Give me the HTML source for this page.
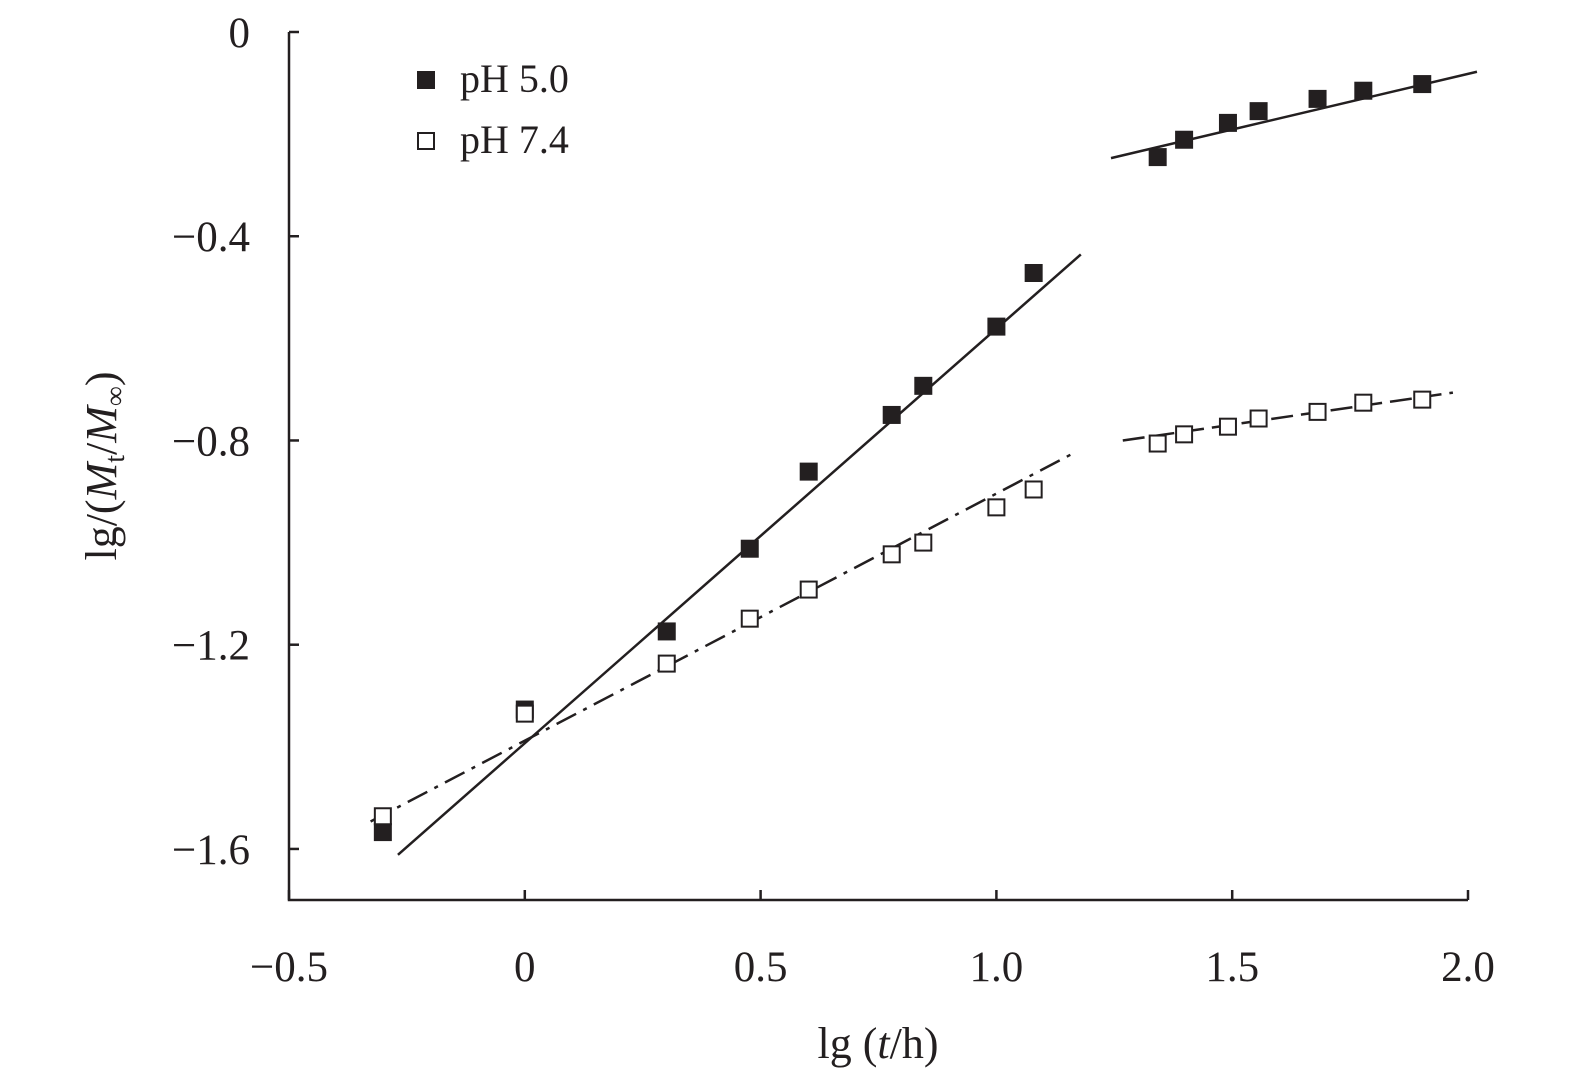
<!DOCTYPE html>
<html><head><meta charset="utf-8">
<style>
html,body{margin:0;padding:0;background:#fff;}
svg{display:block;font-family:"Liberation Serif",serif;}
</style></head>
<body>
<svg id="chart" width="1575" height="1083" viewBox="0 0 1575 1083" xmlns="http://www.w3.org/2000/svg">
</svg>
<script>
const xValues = [-0.301,0,0.301,0.477,0.602,0.778,0.845,1.0,1.079,1.342,1.398,1.491,1.556,1.681,1.778,1.903];
const ph50 = [-1.567,-1.327,-1.174,-1.012,-0.861,-0.750,-0.693,-0.577,-0.472,-0.245,-0.211,-0.178,-0.155,-0.131,-0.115,-0.102];
const ph74 = [-1.536,-1.335,-1.237,-1.149,-1.092,-1.023,-1.000,-0.931,-0.896,-0.806,-0.788,-0.773,-0.757,-0.744,-0.726,-0.720];
const xTicks = [-0.5,0,0.5,1.0,1.5,2.0];
const xTickLabels = ["\u22120.5","0","0.5","1.0","1.5","2.0"];
const yTicks = [0,-0.4,-0.8,-1.2,-1.6];
const yTickLabels = ["0","\u22120.4","\u22120.8","\u22121.2","\u22121.6"];
// fit segments: [x0, x1, slope, intercept]
const fit50a = [-0.269,1.179,0.812,-1.393];
const fit50b = [1.243,2.019,0.218,-0.518];
const fit74a = [-0.327,1.164,0.484,-1.388];
const fit74b = [1.268,1.968,0.134,-0.970];

const NS="http://www.w3.org/2000/svg";
const svg=document.getElementById('chart');
const X0=289,X1=1468,Y0=32,Y1=900;
const xMin=-0.5,xMax=2.0,yMin=-1.7,yMax=0;
function sx(v){return X0+(v-xMin)/(xMax-xMin)*(X1-X0);}
function sy(v){return Y0+(yMax-v)/(yMax-yMin)*(Y1-Y0);}
function mk(tag,attrs,parent){const e=document.createElementNS(NS,tag);for(const k in attrs)e.setAttribute(k,attrs[k]);(parent||svg).appendChild(e);return e;}

let ax=mk('path',{d:`M${X0},${Y0} V${Y1} H${X1}`,fill:'none',stroke:'#231f20','stroke-width':2.5});



xTicks.forEach((v,i)=>{
  const t=mk('line',{x1:sx(v),x2:sx(v),y1:Y1,y2:Y1-10,stroke:'#231f20','stroke-width':2.5});
  
  
  const l=mk('text',{x:sx(v),y:981,'text-anchor':'middle','font-size':43,fill:'#231f20'});
  l.textContent=xTickLabels[i];
  
  
});
yTicks.forEach((v,i)=>{
  const t=mk('line',{x1:X0,x2:X0+10,y1:sy(v),y2:sy(v),stroke:'#231f20','stroke-width':2.5});
  
  
  const l=mk('text',{x:250,y:sy(v)+15,'text-anchor':'end','font-size':43,fill:'#231f20'});
  l.textContent=yTickLabels[i];
  
  
});

function seg(f,dash,name){
  const l=mk('line',{x1:sx(f[0]),y1:sy(f[2]*f[0]+f[3]),x2:sx(f[1]),y2:sy(f[2]*f[1]+f[3]),stroke:'#231f20','stroke-width':2.5,'stroke-dasharray':dash});
  
  
}
seg(fit50a,'none','fit-line-ph50-early');
seg(fit50b,'none','fit-line-ph50-late');
seg(fit74a,'22 8 4 8','fit-line-ph74-early');
seg(fit74b,'22 8','fit-line-ph74-late');

const S=18;
xValues.forEach((x,i)=>{
  const a=mk('rect',{x:sx(x)-S/2,y:sy(ph50[i])-S/2,width:S,height:S,fill:'#231f20'});
  
  
});
xValues.forEach((x,i)=>{
  const b=mk('rect',{x:sx(x)-S/2+1,y:sy(ph74[i])-S/2+1,width:S-2,height:S-2,fill:'#fff',stroke:'#231f20','stroke-width':2});
  
  
});
</script>
<svg style="position:absolute;left:0;top:0" width="1575" height="1083">
  <g font-family="Liberation Serif, serif" fill="#231f20">
    <rect x="417" y="71" width="18" height="18" fill="#231f20"/>
    <text x="460" y="92" font-size="40">pH 5.0</text>
    <rect x="418" y="133" width="16" height="16" fill="#fff" stroke="#231f20" stroke-width="2"/>
    <text x="460" y="153" font-size="40">pH 7.4</text>
  </g>
  <text x="878" y="1058" text-anchor="middle" font-family="Liberation Serif, serif" font-size="44" fill="#231f20">lg (<tspan font-style="italic">t</tspan>/h)</text>
  <text transform="translate(116,466) rotate(-90)" text-anchor="middle" font-family="Liberation Serif, serif" font-size="44" fill="#231f20">lg/(<tspan font-style="italic">M</tspan><tspan font-size="28" dy="8">t</tspan><tspan dy="-8">/</tspan><tspan font-style="italic">M</tspan><tspan font-size="28" dy="8">∞</tspan><tspan dy="-8">)</tspan></text>
</svg>
</body></html>
